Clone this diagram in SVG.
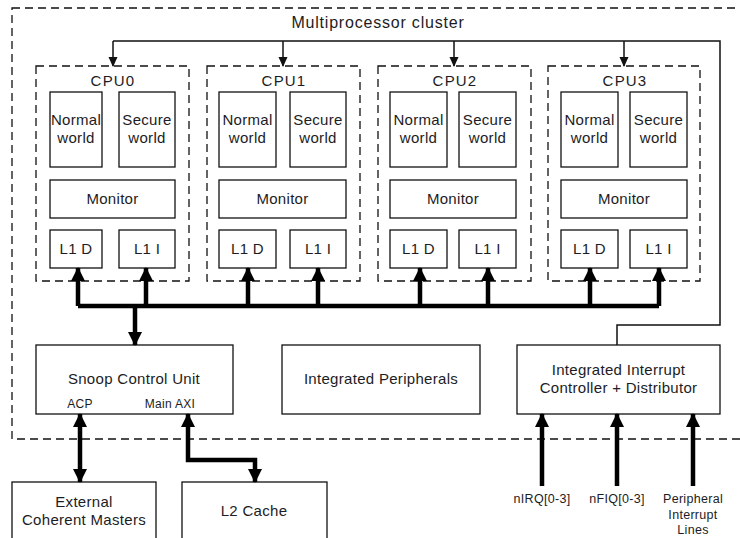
<svg xmlns="http://www.w3.org/2000/svg" width="740" height="538" viewBox="0 0 740 538">
  <style>
    text { font-family: "Liberation Sans", Arial, sans-serif; fill: #1c1c24; text-anchor: middle; }
    .lbl { font-size: 15px; letter-spacing: 0.3px; }
    .cpu { font-size: 15px; letter-spacing: 1.2px; }
    .title { font-size: 16px; letter-spacing: 0.8px; }
    .small { font-size: 12px; letter-spacing: 0.3px; }
    .tiny { font-size: 12.5px; letter-spacing: 0.3px; }
    .box { fill: #ffffff; stroke: #111111; stroke-width: 1.3; }
    .dash { fill: none; stroke: #111111; stroke-width: 1.3; stroke-dasharray: 8 5; }
    .thin { fill: none; stroke: #111111; stroke-width: 1.5; }
    .thick { fill: none; stroke: #000000; stroke-width: 4.5; }
  </style>
  <defs>
    <marker id="thinHead" markerWidth="10" markerHeight="10" refX="9" refY="5" orient="auto" markerUnits="userSpaceOnUse">
      <path d="M0,0.5 L10,5 L0,9.5 Z" fill="#111111"/>
    </marker>
    <marker id="thickHead" markerWidth="14" markerHeight="14" refX="13" refY="7" orient="auto" markerUnits="userSpaceOnUse">
      <path d="M0,0 L14,7 L0,14 Z" fill="#000000"/>
    </marker>
    <marker id="thickTail" markerWidth="14" markerHeight="14" refX="1" refY="7" orient="auto" markerUnits="userSpaceOnUse">
      <path d="M14,0 L0,7 L14,14 Z" fill="#000000"/>
    </marker>
  </defs>

  <!-- cluster boundary -->
  <g id="cluster">
    <rect class="dash" x="12" y="8" width="740" height="431"/>
    <text class="title" x="378" y="28">Multiprocessor cluster</text>
  </g>

  <!-- CPU cores -->
  <g id="cpu0">
    <rect class="dash" x="36" y="66" width="153" height="215"/>
    <text class="cpu" x="113" y="86">CPU0</text>
    <rect class="box" x="50" y="92" width="52" height="75"/>
    <text class="lbl" x="76" y="125">Normal</text>
    <text class="lbl" x="76" y="143">world</text>
    <rect class="box" x="119" y="92" width="56" height="75"/>
    <text class="lbl" x="147" y="125">Secure</text>
    <text class="lbl" x="147" y="143">world</text>
    <rect class="box" x="50" y="180" width="125" height="38"/>
    <text class="lbl" x="112.5" y="204">Monitor</text>
    <rect class="box" x="50" y="230" width="52" height="38"/>
    <text class="lbl" x="76" y="254">L1 D</text>
    <rect class="box" x="119" y="230" width="56" height="38"/>
    <text class="lbl" x="147" y="254">L1 I</text>
  </g>
  <g id="cpu1">
    <rect class="dash" x="207" y="66" width="153" height="215"/>
    <text class="cpu" x="284" y="86">CPU1</text>
    <rect class="box" x="219" y="92" width="57" height="75"/>
    <text class="lbl" x="247.5" y="125">Normal</text>
    <text class="lbl" x="247.5" y="143">world</text>
    <rect class="box" x="290" y="92" width="56" height="75"/>
    <text class="lbl" x="318" y="125">Secure</text>
    <text class="lbl" x="318" y="143">world</text>
    <rect class="box" x="219" y="180" width="127" height="38"/>
    <text class="lbl" x="282.5" y="204">Monitor</text>
    <rect class="box" x="219" y="230" width="57" height="38"/>
    <text class="lbl" x="247.5" y="254">L1 D</text>
    <rect class="box" x="290" y="230" width="56" height="38"/>
    <text class="lbl" x="318" y="254">L1 I</text>
  </g>
  <g id="cpu2">
    <rect class="dash" x="378" y="66" width="153" height="215"/>
    <text class="cpu" x="455" y="86">CPU2</text>
    <rect class="box" x="390" y="92" width="57" height="75"/>
    <text class="lbl" x="418.5" y="125">Normal</text>
    <text class="lbl" x="418.5" y="143">world</text>
    <rect class="box" x="459" y="92" width="57" height="75"/>
    <text class="lbl" x="487.5" y="125">Secure</text>
    <text class="lbl" x="487.5" y="143">world</text>
    <rect class="box" x="390" y="180" width="126" height="38"/>
    <text class="lbl" x="453" y="204">Monitor</text>
    <rect class="box" x="390" y="230" width="57" height="38"/>
    <text class="lbl" x="418.5" y="254">L1 D</text>
    <rect class="box" x="459" y="230" width="57" height="38"/>
    <text class="lbl" x="487.5" y="254">L1 I</text>
  </g>
  <g id="cpu3">
    <rect class="dash" x="548" y="66" width="152" height="215"/>
    <text class="cpu" x="625" y="86">CPU3</text>
    <rect class="box" x="561" y="92" width="57" height="75"/>
    <text class="lbl" x="589.5" y="125">Normal</text>
    <text class="lbl" x="589.5" y="143">world</text>
    <rect class="box" x="630" y="92" width="57" height="75"/>
    <text class="lbl" x="658.5" y="125">Secure</text>
    <text class="lbl" x="658.5" y="143">world</text>
    <rect class="box" x="561" y="180" width="126" height="38"/>
    <text class="lbl" x="624" y="204">Monitor</text>
    <rect class="box" x="561" y="230" width="57" height="38"/>
    <text class="lbl" x="589.5" y="254">L1 D</text>
    <rect class="box" x="630" y="230" width="57" height="38"/>
    <text class="lbl" x="658.5" y="254">L1 I</text>
  </g>

  <!-- cluster blocks -->
  <g id="scu">
    <rect class="box" x="36" y="345" width="197" height="69"/>
    <text class="lbl" x="134" y="384">Snoop Control Unit</text>
    <text class="small" x="80" y="408">ACP</text>
    <text class="small" x="170" y="408">Main AXI</text>
  </g>
  <g id="peripherals">
    <rect class="box" x="282" y="345" width="198" height="69"/>
    <text class="lbl" x="381" y="384">Integrated Peripherals</text>
  </g>
  <g id="gic">
    <rect class="box" x="517" y="345" width="203" height="69"/>
    <text class="lbl" x="618.5" y="375">Integrated Interrupt</text>
    <text class="lbl" x="618.5" y="393">Controller + Distributor</text>
  </g>

  <!-- outside the cluster -->
  <g id="external-masters">
    <rect class="box" x="12" y="482" width="144" height="70"/>
    <text class="lbl" x="84" y="507">External</text>
    <text class="lbl" x="84" y="525">Coherent Masters</text>
  </g>
  <g id="l2-cache">
    <rect class="box" x="182" y="482" width="145" height="70"/>
    <text class="lbl" x="254" y="516">L2 Cache</text>
  </g>
  <g id="irq-labels">
    <text class="tiny" x="542" y="503">nIRQ[0-3]</text>
    <text class="tiny" x="617" y="503">nFIQ[0-3]</text>
    <text class="tiny" x="693" y="503">Peripheral</text>
    <text class="tiny" x="693" y="519">Interrupt</text>
    <text class="tiny" x="693" y="534">Lines</text>
  </g>

  <!-- connectors -->
  <g id="connectors">
    <!-- interrupt distribution to the cores -->
    <path class="thin" d="M617,345 V325 H720 V41 H113"/>
    <path class="thin" d="M113,41 V66" marker-end="url(#thinHead)"/>
    <path class="thin" d="M283,41 V66" marker-end="url(#thinHead)"/>
    <path class="thin" d="M454,41 V66" marker-end="url(#thinHead)"/>
    <path class="thin" d="M624,41 V66" marker-end="url(#thinHead)"/>

    <!-- L1 caches to the snoop control unit -->
    <path class="thick" d="M78,306 H659"/>
    <path class="thick" d="M78,306 V268" marker-end="url(#thickHead)"/>
    <path class="thick" d="M146,306 V268" marker-end="url(#thickHead)"/>
    <path class="thick" d="M248,306 V268" marker-end="url(#thickHead)"/>
    <path class="thick" d="M318,306 V268" marker-end="url(#thickHead)"/>
    <path class="thick" d="M420,306 V268" marker-end="url(#thickHead)"/>
    <path class="thick" d="M488,306 V268" marker-end="url(#thickHead)"/>
    <path class="thick" d="M590,306 V268" marker-end="url(#thickHead)"/>
    <path class="thick" d="M659,306 V268" marker-end="url(#thickHead)"/>
    <path class="thick" d="M135,306 V345" marker-end="url(#thickHead)"/>

    <!-- ACP and main AXI ports -->
    <path class="thick" d="M80,414 V482" marker-start="url(#thickTail)" marker-end="url(#thickHead)"/>
    <path class="thick" d="M188,414 V460 H255 V482" marker-start="url(#thickTail)" marker-end="url(#thickHead)"/>

    <!-- interrupt inputs -->
    <path class="thick" d="M542,486 V414" marker-end="url(#thickHead)"/>
    <path class="thick" d="M617,486 V414" marker-end="url(#thickHead)"/>
    <path class="thick" d="M693,486 V414" marker-end="url(#thickHead)"/>
  </g>
</svg>
